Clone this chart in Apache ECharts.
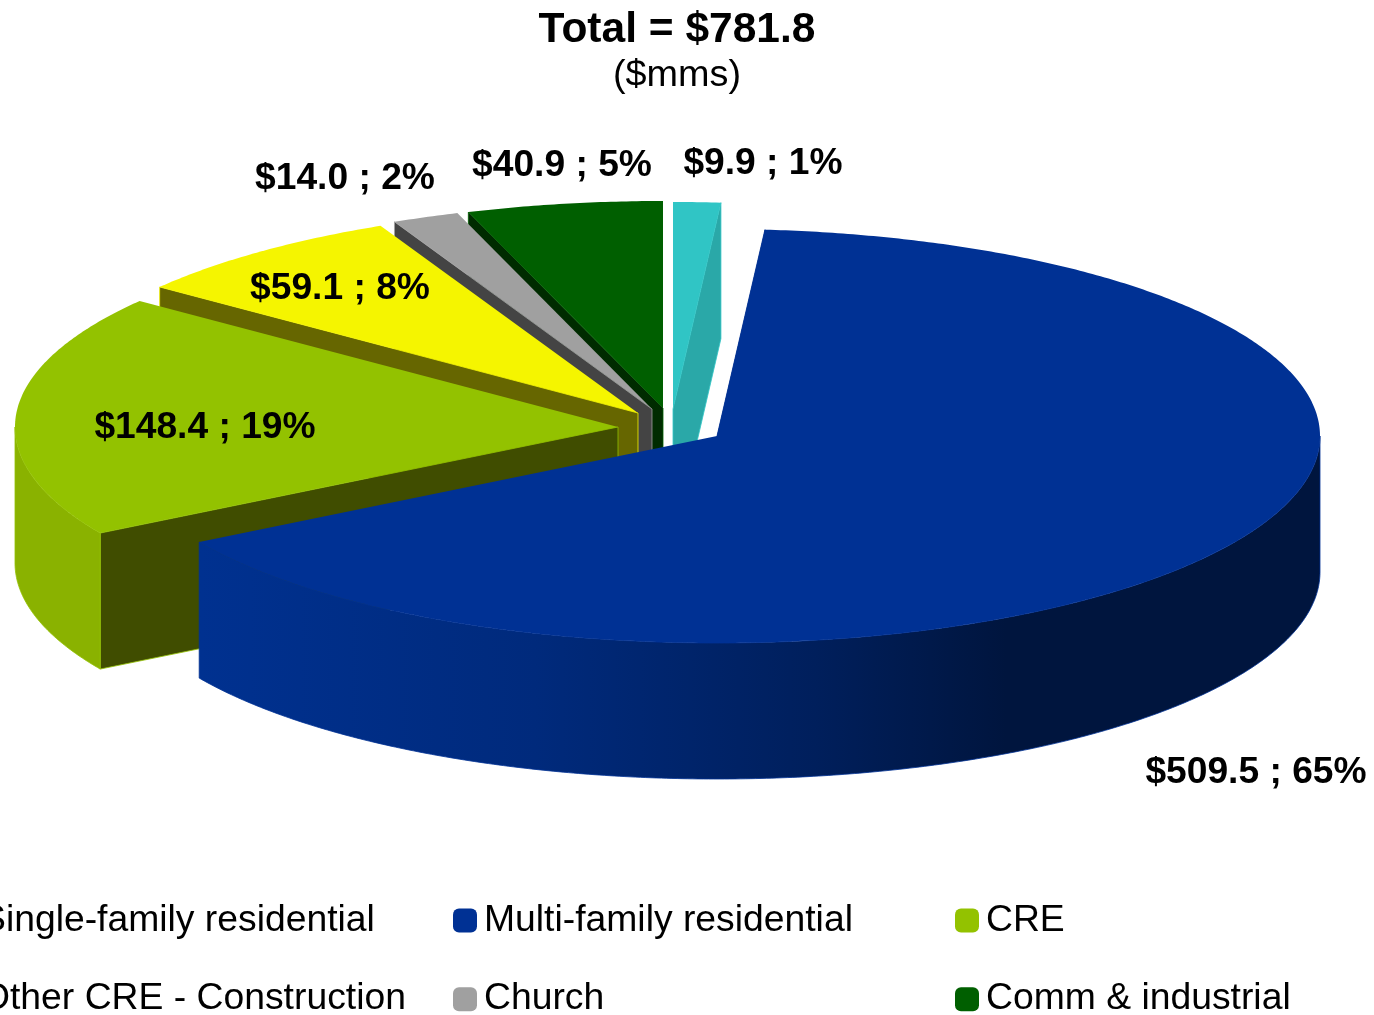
<!DOCTYPE html>
<html>
<head>
<meta charset="utf-8">
<title>Total = $781.8</title>
<script src="https://cdn.jsdelivr.net/npm/echarts@6/dist/echarts.min.js"></script>
<style>
  html, body { margin: 0; padding: 0; background: #fff; overflow: hidden; }
  #chart { width: 1374px; height: 1015px; }
</style>
</head>
<body>
<div id="chart"></div>
<script>
const categories = ["Single-family residential", "Multi-family residential", "CRE", "Other CRE - Construction", "Church", "Comm & industrial"];
const values = [9.9, 509.5, 148.4, 59.1, 14.0, 40.9];
const topColors = ["#30c5c5", "#003194", "#93c200", "#f5f500", "#a0a0a0", "#005f00"];
const edgeColors = ["#2aa8a8", "#00236e", "#404d00", "#666600", "#444444", "#002b00"];
const rimColors = ["#2aa8a8", "#003190", "#8ab200", "#666600", "#444444", "#002b00"];

// layout of the tilted pie, in pixels
const RX = 603, RY = 207, DEPTH = 136;
const apexX = [673, 717, 618, 638, 652, 663];
const apexY = [409, 436, 427, 413, 409, 408];
const labelX = [763, 1256, 205, 340, 345, 562];
const labelY = [164, 773, 428, 289, 179, 166];
const paintOrder = [1, 6, 5, 4, 3, 2];

const total = values.reduce((a, b) => a + b, 0);

function sliceAngles(i) {
  const before = values.slice(0, i).reduce((a, b) => a + b, 0);
  return [before / total * 360, (before + values[i]) / total * 360];
}

function rim(i, deg, drop) {
  const t = deg * Math.PI / 180;
  return [apexX[i] + RX * Math.sin(t), apexY[i] - RY * Math.cos(t) + (drop || 0)];
}

function arc(i, from, to, drop) {
  const pts = [];
  const steps = Math.max(2, Math.ceil(Math.abs(to - from) * 2));
  for (let k = 0; k <= steps; k++) pts.push(rim(i, from + (to - from) * k / steps, drop));
  return pts;
}

function rimFill(i) {
  if (i === 1) {
    return {
      type: "linear", x: 200, y: 0, x2: 1320, y2: 0, global: true,
      colorStops: [
        { offset: 0, color: "#003190" },
        { offset: 0.3, color: "#002a7c" },
        { offset: 0.55, color: "#001f5c" },
        { offset: 0.72, color: "#00153e" },
        { offset: 1, color: "#00153e" }
      ]
    };
  }
  return rimColors[i];
}

function renderSlice(i) {
  return function (params, api) {
    const v = api.value(0);
    const [a0, a1] = sliceAngles(i);
    const apex = [apexX[i], apexY[i]];
    const children = [];

    // cut face that shows: the far edge on the first slice, the near edge on the rest
    const r = rim(i, i === 0 ? a1 : a0);
    children.push({
      type: "polygon",
      shape: { points: [apex, r, [r[0], r[1] + DEPTH], [apex[0], apex[1] + DEPTH]] },
      style: { fill: edgeColors[i], stroke: topColors[i], lineWidth: 0.8 }
    });

    // outer wall, only the part facing the viewer
    const f0 = Math.max(a0, 90), f1 = Math.min(a1, 270);
    if (f1 > f0) {
      children.push({
        type: "polygon",
        shape: { points: arc(i, f0, f1, 0).concat(arc(i, f1, f0, DEPTH)) },
        style: { fill: rimFill(i), stroke: topColors[i], lineWidth: 0.8 }
      });
    }

    children.push({
      type: "polygon",
      shape: { points: [apex].concat(arc(i, a0, a1, 0)) },
      style: { fill: topColors[i] }
    });

    children.push({
      type: "text",
      style: {
        text: "$" + v.toFixed(1) + " ; " + Math.round(v / total * 100) + "%",
        x: labelX[i], y: labelY[i],
        align: "center", verticalAlign: "middle",
        font: "bold 37.2px 'Liberation Sans', Arial, sans-serif",
        fill: "#000"
      }
    });

    return { type: "group", children };
  };
}

function legendColumn(names, left) {
  return {
    data: names, orient: "vertical", left, top: 902, height: 200,
    icon: "roundRect", itemWidth: 24, itemHeight: 24, itemGap: 41.7,
    selectedMode: false, padding: 0,
    textStyle: { color: "#000", fontSize: 37.3, fontFamily: "'Liberation Sans', Arial, sans-serif", padding: [0, 0, 0, 2] }
  };
}

const chart = echarts.init(document.getElementById("chart"));
chart.setOption({
  backgroundColor: "#fff",
  animation: false,
  title: {
    text: "Total = $781.8",
    subtext: "($mms)",
    left: 677, top: 9, textAlign: "center", padding: 0, itemGap: 5,
    textStyle: { color: "#000", fontSize: 42.5, fontWeight: "bold", fontFamily: "'Liberation Sans', Arial, sans-serif" },
    subtextStyle: { color: "#000", fontSize: 37.8, fontFamily: "'Liberation Sans', Arial, sans-serif" }
  },
  legend: [
    legendColumn([categories[0], categories[3]], -50),
    legendColumn([categories[1], categories[4]], 453),
    legendColumn([categories[2], categories[5]], 955)
  ],
  series: categories.map((name, i) => ({
    name,
    type: "custom",
    coordinateSystem: "none",
    z: paintOrder[i],
    silent: true,
    itemStyle: { color: topColors[i] },
    data: [[values[i]]],
    renderItem: renderSlice(i)
  }))
});
window.addEventListener("resize", () => chart.resize());
</script>
</body>
</html>
